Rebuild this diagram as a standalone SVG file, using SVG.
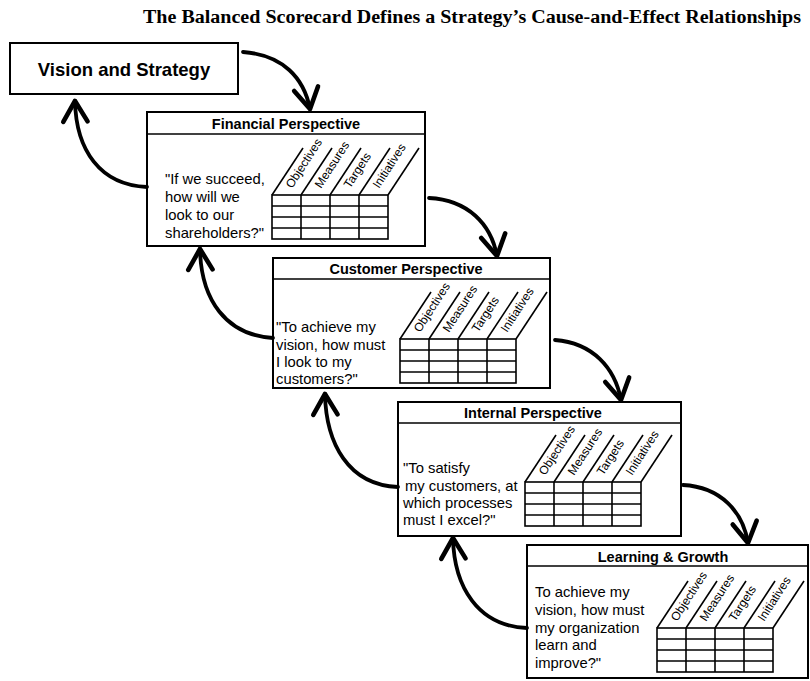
<svg xmlns="http://www.w3.org/2000/svg" xmlns:xlink="http://www.w3.org/1999/xlink" width="810" height="681" viewBox="0 0 810 681">
<style>
.box{fill:#fff;stroke:#000;stroke-width:2}
.hl{stroke:#000;stroke-width:1.6}
.title{font-family:"Liberation Serif",serif;font-weight:bold;font-size:18px;fill:#000}
.vis{font-family:"Liberation Sans",Arial,sans-serif;font-weight:bold;font-size:18.5px;fill:#000}
.hd{font-family:"Liberation Sans",Arial,sans-serif;font-weight:bold;font-size:14.5px;fill:#000}
.q{font-family:"Liberation Sans",Arial,sans-serif;font-size:14.8px;fill:#000}
.lb{font-family:"Liberation Sans",Arial,sans-serif;font-size:12px;fill:#000}
.grid line,.grid rect{stroke:#000;stroke-width:1.6;fill:none}
.arr{fill:none;stroke:#000;stroke-width:3.8;stroke-linecap:round}
</style>
<defs>
<marker id="ah" markerUnits="userSpaceOnUse" markerWidth="34" markerHeight="34" viewBox="-22 -14 26 28" refX="0" refY="0" orient="auto">
<path d="M-17,-10 L0,0 L-17,10" fill="none" stroke="#000" stroke-width="3.8" stroke-linecap="round" stroke-linejoin="round"/>
</marker>
<g id="tbl" class="grid">
<rect x="0" y="0" width="116" height="44"/>
<line x1="29" y1="0" x2="29" y2="44"/>
<line x1="58" y1="0" x2="58" y2="44"/>
<line x1="87" y1="0" x2="87" y2="44"/>
<line x1="0" y1="11" x2="116" y2="11"/>
<line x1="0" y1="22" x2="116" y2="22"/>
<line x1="0" y1="33" x2="116" y2="33"/>
<line x1="0" y1="0" x2="31" y2="-47"/>
<line x1="29" y1="0" x2="60" y2="-47"/>
<line x1="58" y1="0" x2="89" y2="-47"/>
<line x1="87" y1="0" x2="118" y2="-47"/>
<line x1="116" y1="0" x2="147" y2="-47"/>
<text class="lb" transform="translate(20,-6) rotate(-57)">Objectives</text>
<text class="lb" transform="translate(49,-6) rotate(-57)">Measures</text>
<text class="lb" transform="translate(78,-6) rotate(-57)">Targets</text>
<text class="lb" transform="translate(107,-6) rotate(-57)">Initiatives</text>
</g>
</defs>
<rect width="810" height="681" fill="#fff"/>
<text class="title" x="143" y="23" textLength="658" lengthAdjust="spacingAndGlyphs">The Balanced Scorecard Defines a Strategy’s Cause-and-Effect Relationships</text>

<g id="vision">
<rect class="box" x="10" y="43" width="228" height="51"/>
<text class="vis" x="124" y="76" text-anchor="middle">Vision and Strategy</text>
</g>

<g id="financial">
<rect class="box" x="147" y="112" width="278" height="134"/>
<line class="hl" x1="147" y1="134" x2="425" y2="134"/>
<text class="hd" x="286" y="129" text-anchor="middle">Financial Perspective</text>
<text class="q" x="165" y="184">"If we succeed,</text>
<text class="q" x="165" y="202">how will we</text>
<text class="q" x="165" y="220">look to our</text>
<text class="q" x="165" y="238">shareholders?"</text>
<use xlink:href="#tbl" x="272" y="195"/>
</g>

<g id="customer">
<rect class="box" x="273" y="258" width="277" height="130"/>
<line class="hl" x1="273" y1="279" x2="550" y2="279"/>
<text class="hd" x="406" y="274" text-anchor="middle">Customer Perspective</text>
<text class="q" x="276" y="332">"To achieve my</text>
<text class="q" x="276" y="350">vision, how must</text>
<text class="q" x="276" y="367">I look to my</text>
<text class="q" x="276" y="384">customers?"</text>
<use xlink:href="#tbl" x="400" y="339"/>
</g>

<g id="internal">
<rect class="box" x="398" y="402" width="283" height="134"/>
<line class="hl" x1="398" y1="423" x2="681" y2="423"/>
<text class="hd" x="533" y="418" text-anchor="middle">Internal Perspective</text>
<text class="q" x="403" y="473">"To satisfy</text>
<text class="q" x="405" y="491">my customers, at</text>
<text class="q" x="403" y="508">which processes</text>
<text class="q" x="403" y="525">must I excel?"</text>
<use xlink:href="#tbl" x="525" y="482"/>
</g>

<g id="learning">
<rect class="box" x="527" y="545" width="281" height="133"/>
<line class="hl" x1="527" y1="566" x2="808" y2="566"/>
<text class="hd" x="663" y="562" text-anchor="middle">Learning &amp; Growth</text>
<text class="q" x="535" y="597">To achieve my</text>
<text class="q" x="535" y="615">vision, how must</text>
<text class="q" x="535" y="633">my organization</text>
<text class="q" x="535" y="650">learn and</text>
<text class="q" x="535" y="668">improve?"</text>
<use xlink:href="#tbl" x="657" y="628"/>
</g>

<g id="connectors">
<path class="arr" marker-end="url(#ah)" d="M243,52 C283,55 304,78 310,109"/>
<path class="arr" marker-end="url(#ah)" d="M147,187 C100,185 76,150 75,101"/>
<path class="arr" marker-end="url(#ah)" d="M429,198 C468,200 491,224 497,256"/>
<path class="arr" marker-end="url(#ah)" d="M273,338 C226,335 201,300 200,249"/>
<path class="arr" marker-end="url(#ah)" d="M555,340 C593,343 615,368 621,400"/>
<path class="arr" marker-end="url(#ah)" d="M398,487 C348,485 326,443 325,394"/>
<path class="arr" marker-end="url(#ah)" d="M683,485 C721,487 743,512 748,543"/>
<path class="arr" marker-end="url(#ah)" d="M527,628 C478,626 454,587 453,538"/>
</g>
</svg>
